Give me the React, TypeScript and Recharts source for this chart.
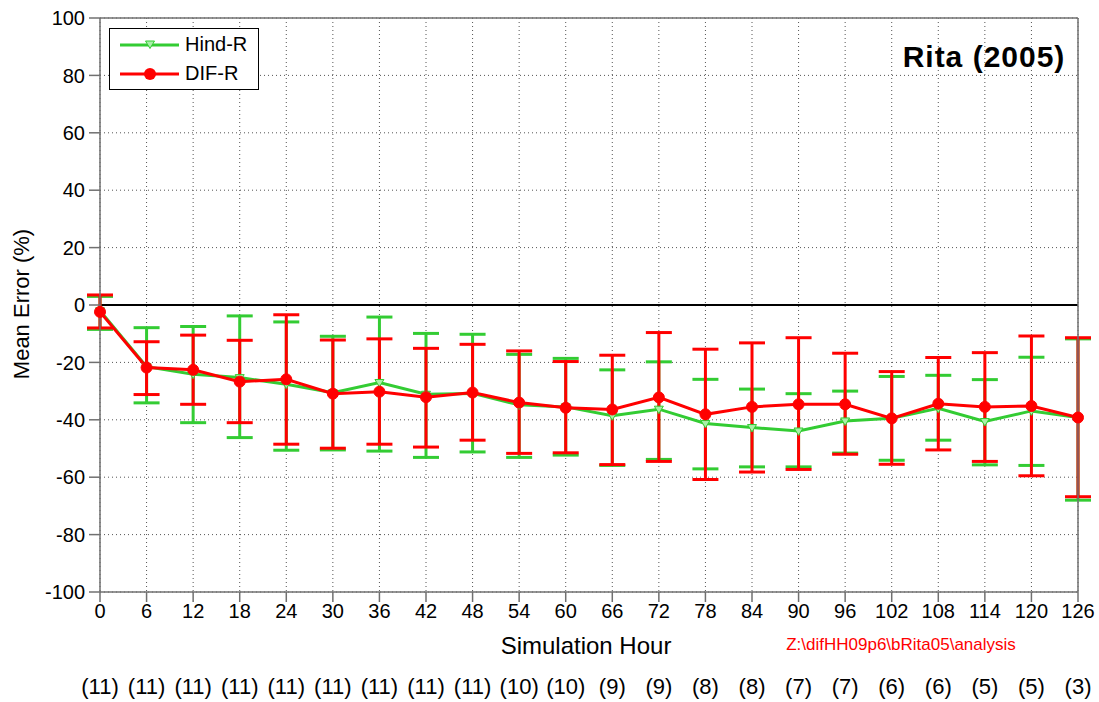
import React from 'react';
import {
    ComposedChart, Line, XAxis, YAxis, CartesianGrid, ErrorBar, ReferenceLine,
} from 'recharts';

const HOURS = [0, 6, 12, 18, 24, 30, 36, 42, 48, 54, 60, 66, 72, 78, 84, 90, 96, 102, 108, 114, 120, 126];
const COUNTS = [11, 11, 11, 11, 11, 11, 11, 11, 11, 10, 10, 9, 9, 8, 8, 7, 7, 6, 6, 5, 5, 3];
const Y_TICKS = [-100, -80, -60, -40, -20, 0, 20, 40, 60, 80, 100];

// Hind-R: mean error and the top / bottom of each error bar
const HIND_MEAN = [-2.0, -21.5, -24.1, -25.3, -27.6, -30.6, -27.0, -31.1, -30.8, -34.8, -35.5, -38.6, -36.3, -41.3, -42.7, -43.9, -40.4, -39.5, -36.0, -40.6, -36.9, -39.2];
const HIND_UPPER = [3.0, -7.9, -7.5, -3.8, -5.9, -10.9, -4.2, -9.9, -10.2, -17.2, -18.6, -22.6, -19.8, -25.9, -29.3, -30.9, -30.0, -24.9, -24.5, -26.0, -18.2, -11.8];
const HIND_LOWER = [-8.5, -34.1, -41.0, -46.2, -50.6, -50.5, -50.9, -53.1, -51.2, -53.1, -52.3, -55.9, -53.8, -57.1, -56.4, -56.4, -51.6, -54.1, -47.1, -55.7, -55.9, -68.0];

// DIF-R
const DIF_MEAN = [-2.4, -21.8, -22.6, -26.7, -25.9, -30.9, -30.2, -32.1, -30.5, -34.0, -35.8, -36.4, -32.2, -38.1, -35.5, -34.6, -34.6, -39.5, -34.4, -35.5, -35.2, -39.2];
const DIF_UPPER = [3.5, -12.8, -10.5, -12.3, -3.4, -12.2, -11.8, -15.1, -13.7, -16.0, -19.7, -17.5, -9.6, -15.4, -13.2, -11.4, -16.8, -23.2, -18.3, -16.6, -10.8, -11.4];
const DIF_LOWER = [-8.0, -31.2, -34.6, -41.0, -48.5, -49.9, -48.5, -49.5, -47.1, -51.7, -51.5, -55.6, -54.5, -60.8, -58.2, -57.3, -52.0, -55.5, -50.5, -54.5, -59.5, -66.8];

const GREEN = '#33cc33';
const RED = '#ff0000';
const AXIS = '#707070';
const FONT = '"Liberation Sans", Arial, sans-serif';

const data = HOURS.map((h, i) => ({
    hour: h,
    hind: HIND_MEAN[i],
    hindErr: [HIND_MEAN[i] - HIND_LOWER[i], HIND_UPPER[i] - HIND_MEAN[i]],
    dif: DIF_MEAN[i],
    difErr: [DIF_MEAN[i] - DIF_LOWER[i], DIF_UPPER[i] - DIF_MEAN[i]],
}));

function TriangleDot({ cx, cy }: any) {
    if (cx == null || cy == null) return null;
    return (
        <path
            d={`M${cx - 4.5},${cy - 3} L${cx + 4.5},${cy - 3} L${cx},${cy + 4.5} Z`}
            fill="#a8f0a8"
            stroke={GREEN}
            strokeWidth={1}
        />
    );
}

function HourTick({ x, y, payload }: any) {
    return (
        <g>
            <text x={x} y={y} dy="0.71em" textAnchor="middle" fontSize={20} fill="#000">
                {payload.value}
            </text>
            <text x={x} y={y + 90} textAnchor="middle" fontSize={22} fill="#000">
                ({COUNTS[HOURS.indexOf(payload.value)]})
            </text>
        </g>
    );
}

function LegendBox() {
    const row = (label: string, color: string, marker: React.ReactNode) => (
        <div style={{ display: 'flex', alignItems: 'center', height: 29 }}>
            <svg width={70} height={20}>
                <line x1={10} x2={69} y1={10} y2={10} stroke={color} strokeWidth={3} />
                {marker}
            </svg>
            <span style={{ fontSize: 20, marginLeft: 5 }}>{label}</span>
        </div>
    );
    return (
        <div style={{
            position: 'absolute', left: 109, top: 28, width: 148, height: 59,
            border: '1px solid #000', background: '#fff', paddingTop: 1,
        }}>
            {row('Hind-R', GREEN, <TriangleDot cx={40} cy={9} />)}
            {row('DIF-R', RED, <circle cx={40} cy={10} r={6} fill={RED} />)}
        </div>
    );
}

export default function App() {
    return (
        <div style={{ position: 'absolute', left: 0, top: 0, width: 1099, height: 702, background: '#fff', fontFamily: FONT }}>
            <ComposedChart width={1099} height={702} data={data} margin={{ top: 6, right: 9, left: 40, bottom: 0 }}>
                <CartesianGrid stroke="#555" strokeDasharray="1 3" />
                <XAxis
                    dataKey="hour"
                    type="number"
                    domain={[0, 126]}
                    ticks={HOURS}
                    interval={0}
                    height={110}
                    tickSize={10}
                    tickMargin={2}
                    tick={<HourTick />}
                    axisLine={{ stroke: AXIS, strokeWidth: 1.5 }}
                    tickLine={{ stroke: AXIS, strokeWidth: 1.5 }}
                />
                <XAxis
                    xAxisId="top"
                    orientation="top"
                    type="number"
                    domain={[0, 126]}
                    ticks={HOURS}
                    interval={0}
                    height={12}
                    tickSize={10}
                    tick={false}
                    axisLine={{ stroke: AXIS, strokeWidth: 1.5 }}
                    tickLine={{ stroke: AXIS, strokeWidth: 1.5 }}
                />
                <YAxis
                    type="number"
                    domain={[-100, 100]}
                    ticks={Y_TICKS}
                    interval={0}
                    width={60}
                    tickSize={11}
                    tickMargin={4}
                    tick={{ fontSize: 20, fill: '#000' }}
                    axisLine={{ stroke: AXIS, strokeWidth: 1.5 }}
                    tickLine={{ stroke: AXIS, strokeWidth: 1.5 }}
                />
                <YAxis
                    yAxisId="right"
                    orientation="right"
                    type="number"
                    domain={[-100, 100]}
                    ticks={Y_TICKS}
                    interval={0}
                    width={12}
                    tickSize={10}
                    tick={false}
                    axisLine={{ stroke: AXIS, strokeWidth: 1.5 }}
                    tickLine={{ stroke: AXIS, strokeWidth: 1.5 }}
                />
                <ReferenceLine y={0} stroke="#000" strokeWidth={2} />
                <Line
                    dataKey="hind"
                    stroke={GREEN}
                    strokeWidth={3}
                    dot={<TriangleDot />}
                    activeDot={false}
                    isAnimationActive={false}
                >
                    <ErrorBar dataKey="hindErr" direction="y" width={13} stroke={GREEN} strokeWidth={3} isAnimationActive={false} />
                </Line>
                <Line
                    dataKey="dif"
                    stroke={RED}
                    strokeWidth={3}
                    dot={{ r: 5.5, fill: RED, stroke: RED, strokeWidth: 1 }}
                    activeDot={false}
                    isAnimationActive={false}
                >
                    <ErrorBar dataKey="difErr" direction="y" width={13} stroke={RED} strokeWidth={3} isAnimationActive={false} />
                </Line>
            </ComposedChart>

            <LegendBox />

            <div style={{ position: 'absolute', left: 984, top: 57, transform: 'translate(-50%, -50%)', fontSize: 30, fontWeight: 'bold', letterSpacing: 1, whiteSpace: 'nowrap' }}>
                Rita (2005)
            </div>
            <div style={{ position: 'absolute', left: 22, top: 304, transform: 'translate(-50%, -50%) rotate(-90deg)', fontSize: 22, whiteSpace: 'nowrap' }}>
                Mean Error (%)
            </div>
            <div style={{ position: 'absolute', left: 586, top: 646, transform: 'translate(-50%, -50%)', fontSize: 24, whiteSpace: 'nowrap' }}>
                Simulation Hour
            </div>
            <div style={{ position: 'absolute', left: 901, top: 645, transform: 'translate(-50%, -50%)', fontSize: 17, color: RED, whiteSpace: 'nowrap' }}>
                Z:\difHH09p6\bRita05\analysis
            </div>
        </div>
    );
}
